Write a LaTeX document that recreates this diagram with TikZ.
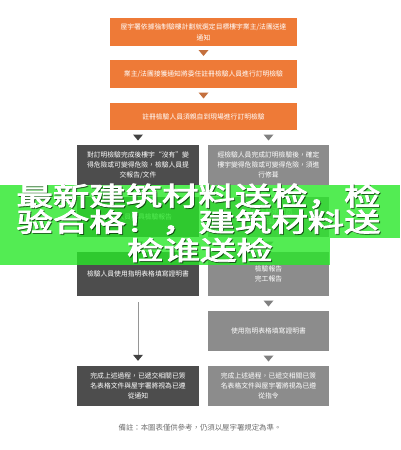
\documentclass[tikz,border=0pt]{standalone}
\usepackage{fontspec}
\newfontfamily\tcfont{Noto Sans CJK TC}
\newfontfamily\scfont[FakeBold=3]{Noto Sans CJK SC}
\usetikzlibrary{calc}
\definecolor{orangebox}{RGB}{238,122,55}
\definecolor{darkbox}{RGB}{77,77,77}
\definecolor{lightbox}{RGB}{140,140,140}
\definecolor{toptri}{RGB}{196,112,62}
\definecolor{darktri}{RGB}{66,66,66}
\definecolor{lighttri}{RGB}{128,128,128}
\definecolor{longline}{RGB}{150,150,150}
\definecolor{notegray}{RGB}{110,110,110}
\definecolor{bannergreen}{RGB}{40,232,40}
\newcommand\tri[3]{\fill[#3] ($(#1.south -| #2.north)!.5!(#2.north)$) +(-5pt,3pt) -- +(5pt,3pt) -- +(0pt,-3pt) -- cycle;}
\begin{document}
\begin{tikzpicture}[x=1pt,y=-1pt,
  box/.style={inner sep=0pt, align=center, text=white, font=\tcfont\fontsize{6.8}{10}\selectfont},
  topbox/.style={box, fill=orangebox, minimum width=187pt, font=\tcfont\fontsize{6.8}{11}\selectfont},
  darkcol/.style={box, fill=darkbox, minimum width=122pt},
  lightcol/.style={box, fill=lightbox, minimum width=121pt},
  bannertext/.style={inner sep=0pt, text=white, font=\scfont\fontsize{26}{27}\selectfont},
  bannershadow/.style={bannertext, text=black, opacity=0.45},
  note/.style={inner sep=0pt, text=notegray, font=\tcfont\fontsize{7.4}{9}\selectfont}
]
\useasboundingbox (0,0) rectangle (400,450);
\fill[white] (0,0) rectangle (400,450);

\node[topbox, minimum height=28pt] (b1) at (203.5,32) {屋宇署依據強制驗樓計劃就選定目標樓宇業主/法團送達\\通知};
\node[topbox, minimum height=28pt] (b2) at (203.5,74) {業主/法團接獲通知將委任註冊檢驗人員進行訂明檢驗};
\node[topbox, minimum height=27pt] (b3) at (203.5,116.5) {註冊檢驗人員須親自到現場進行訂明檢驗};

\node[darkcol, minimum height=40pt] (l1) at (138,165) {對訂明檢驗完成後樓宇“沒有”變\\得危險或可變得危險，檢驗人員提\\交報告/文件};
\node[lightcol, minimum height=40pt] (r1) at (268.5,165) {經檢驗人員完成訂明檢驗後，確定\\樓宇變得危險或可變得危險，須進\\行修葺};
\node[darkcol, minimum height=40pt] (l2) at (138,217) {檢驗人員出具檢驗報告};
\node[lightcol, minimum height=40pt] (r2) at (268.5,217) {委任註冊承建商\\進行修葺工程};
\node[darkcol, minimum height=44pt] (l3) at (138,274) {檢驗人員使用指明表格填寫證明書};
\node[lightcol, minimum height=44pt] (r3) at (268.5,274) {檢驗報告\\完工報告};
\node[lightcol, minimum height=40pt] (r4) at (268.5,331) {使用指明表格填寫證明書};
\node[darkcol, minimum height=40pt] (l4) at (138,386) {完成上述過程，已遞交相關已簽\\名表格文件與屋宇署將視為已遵\\從通知};
\node[lightcol, minimum height=40pt] (r5) at (268.5,386) {完成上述過程，已遞交相關已簽\\名表格文件與屋宇署將視為已遵\\從指令};

\tri{b1}{b2}{toptri}
\tri{b2}{b3}{toptri}
\tri{b3}{l1}{darktri}
\tri{b3}{r1}{lighttri}
\tri{l1}{l2}{darktri}
\tri{r1}{r2}{lighttri}
\tri{l2}{l3}{darktri}
\tri{r2}{r3}{lighttri}
\tri{r3}{r4}{lighttri}
\tri{r4}{r5}{lighttri}
\draw[longline, line width=1pt] ([yshift=-6pt]l3.south) -- ([yshift=11pt]l4.north) coordinate (lend);
\fill[darktri] ([yshift=11pt]l4.north) +(-5pt,0pt) -- +(5pt,0pt) -- +(0pt,-6pt) -- cycle;

\node[note] (n1) at (200,428) {備註：本圖表僅供參考，仍須以屋宇署規定為準。};

\fill[bannergreen, fill opacity=0.8] (0,185) rectangle (400,238);
\fill[bannergreen, fill opacity=0.8] (0,238) rectangle (330,265);
\node[bannershadow] (t1s) at (199.5,197) {\scalebox{1.4}[1]{最新建筑材料送检，检}};
\node[bannershadow] (t2s) at (199.5,223) {\scalebox{1.4}[1]{验合格！，建筑材料送}};
\node[bannershadow] (t3s) at (201,251) {\scalebox{1.4}[1]{检谁送检}};
\node[bannertext] (t1) at (198.5,196) {\scalebox{1.4}[1]{最新建筑材料送检，检}};
\node[bannertext] (t2) at (198.5,222) {\scalebox{1.4}[1]{验合格！，建筑材料送}};
\node[bannertext] (t3) at (200,250) {\scalebox{1.4}[1]{检谁送检}};
\end{tikzpicture}
\end{document}
